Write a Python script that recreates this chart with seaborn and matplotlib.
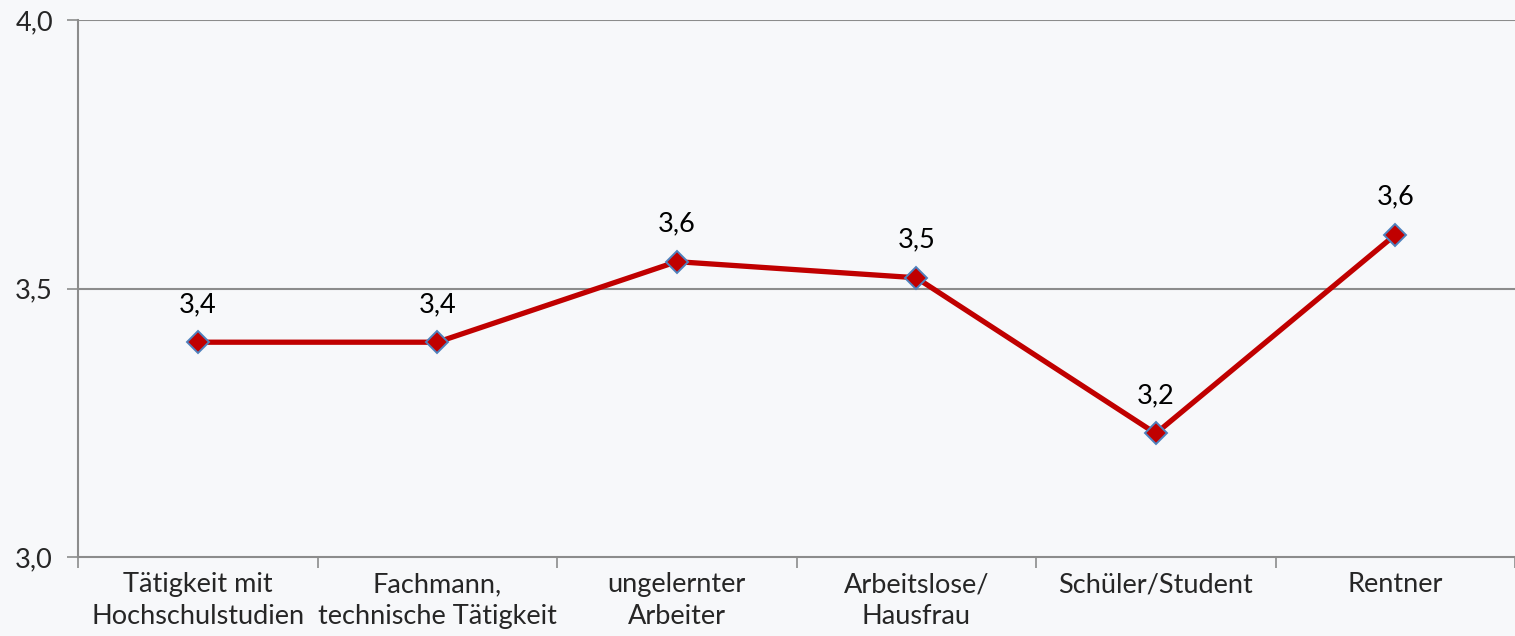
import matplotlib
matplotlib.use("Agg")
import matplotlib.pyplot as plt
import seaborn as sns
import pandas as pd
import numpy as np

categories = ["Tätigkeit mit\nHochschulstudien", "Fachmann,\ntechnische Tätigkeit",
              "ungelernter\nArbeiter", "Arbeitslose/\nHausfrau", "Schüler/Student", "Rentner"]
values = [3.40, 3.40, 3.55, 3.52, 3.23, 3.60]
point_labels = ["3,4", "3,4", "3,6", "3,5", "3,2", "3,6"]
y_ticks = [3.0, 3.5, 4.0]
y_tick_labels = ["3,0", "3,5", "4,0"]

sns.set_style("white")
plt.rcParams["font.family"] = ["Lato", "DejaVu Sans"]

bg = "#f7f8fa"
fs = 19.5
fig = plt.figure(figsize=(15.15, 6.36), dpi=100, facecolor=bg)
ax = fig.add_axes([78/1515, 1-557/636, 1-78/1515, (557-20)/636])
ax.set_facecolor(bg)

df = pd.DataFrame({"x": np.arange(len(categories)), "y": values})
sns.lineplot(data=df, x="x", y="y", ax=ax, color="#c00000", linewidth=3.8,
             marker="D", markersize=11, markerfacecolor="#c00000",
             markeredgecolor="#4f81bd", markeredgewidth=1.4, zorder=3)

for xi, yi, lab in zip(df["x"], df["y"], point_labels):
    ax.annotate(lab, (xi, yi), xytext=(0, 27), textcoords="offset points",
                ha="center", va="center", fontsize=fs, color="black")

ax.set_xlim(-0.5, len(categories) - 0.5)
ax.set_ylim(3.0, 4.0)
ax.set_yticks(y_ticks)
ax.set_yticklabels(y_tick_labels, fontsize=fs)
for yv in y_ticks[1:]:
    ax.axhline(yv, color="#8c8c8c", linewidth=1.5, zorder=1)

ax.set_xticks(np.arange(-0.5, len(categories), 1.0))
ax.set_xticklabels([])
ax.set_xticks(np.arange(len(categories)), minor=True)
ax.set_xticklabels(categories, minor=True, fontsize=fs, linespacing=1.35)
ax.tick_params(axis="x", which="major", length=8, color="#8c8c8c", width=1.2, direction="out", bottom=True)
ax.tick_params(axis="x", which="minor", length=0, pad=11)
ax.tick_params(axis="y", length=8, color="#8c8c8c", width=1.2, direction="out", left=True, pad=10)
ax.set_xlabel("")
ax.set_ylabel("")

for s in ["top", "right"]:
    ax.spines[s].set_visible(False)
for s in ["left", "bottom"]:
    ax.spines[s].set_color("#8c8c8c")
    ax.spines[s].set_linewidth(1.5)

fig.savefig("out.png", dpi=100, facecolor=bg)
